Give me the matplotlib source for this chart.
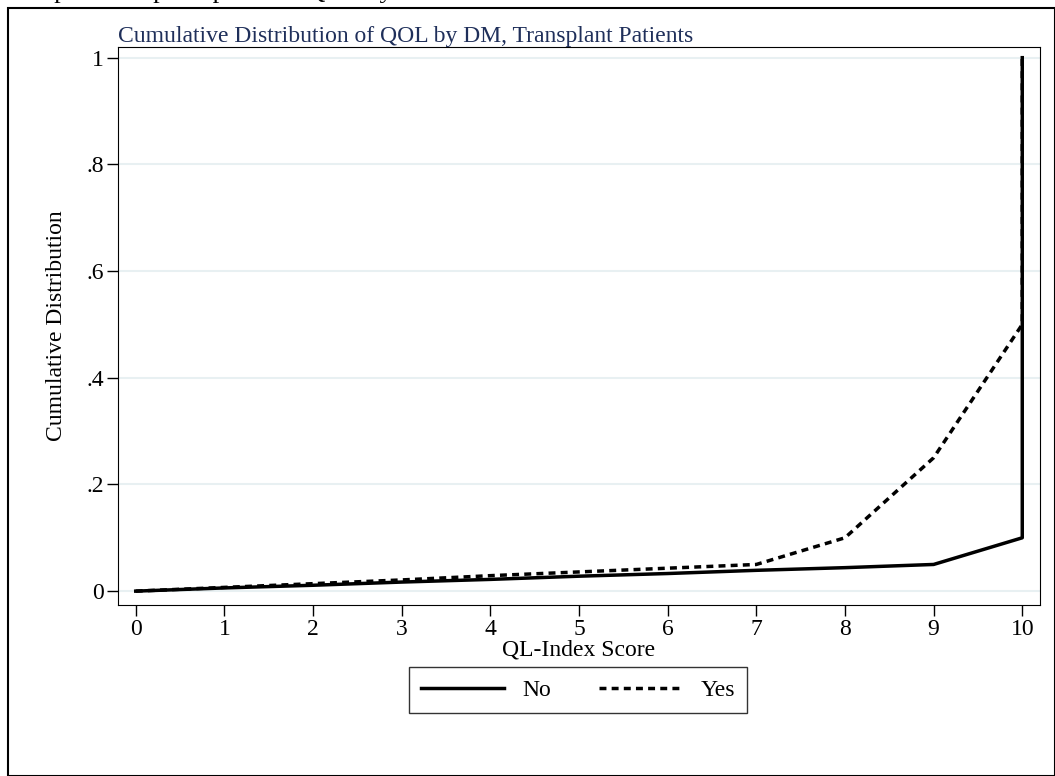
import matplotlib.pyplot as plt
from matplotlib.patches import Rectangle

plt.rcParams['font.family'] = ['Liberation Serif', 'DejaVu Serif']

score_no = [0, 1, 2, 3, 4, 5, 6, 7, 8, 9, 10, 10]
cdf_no = [0, 0.006, 0.011, 0.017, 0.022, 0.028, 0.033, 0.039, 0.044, 0.05, 0.1, 1.0]
score_yes = [0, 1, 2, 3, 4, 5, 6, 7, 8, 9, 10, 10]
cdf_yes = [0, 0.007, 0.014, 0.021, 0.029, 0.036, 0.043, 0.05, 0.1, 0.25, 0.5, 1.0]

W, H = 1055, 776
fig = plt.figure(figsize=(W / 100, H / 100), dpi=100)

# outer frame and caption clipped by the top edge, as in the source
fig.patches.append(Rectangle((8 / W, 0), (W - 8) / W, (H - 8) / H, transform=fig.transFigure,
                             fill=False, edgecolor='black', linewidth=1.5))
fig.text(-0.005, 1 + 8 / H, 'Transplant recipient patients\' QOL by DM',
         fontsize=19, va='center', ha='left')

ax = fig.add_axes([118 / W, 1 - 605 / H, (1040 - 118) / W, (605 - 47) / H])
ax.plot(score_no, cdf_no, color='black', linewidth=2.5, label='No')
ax.plot(score_yes, cdf_yes, color='black', linewidth=2.5, linestyle=(0, (2, 1.5)), label='Yes')

ax.set_xlim(-0.2, 10.2)
ax.set_ylim(-0.026, 1.02)
ax.set_xticks(range(11))
ax.set_yticks([0, 0.2, 0.4, 0.6, 0.8, 1.0])
ax.set_yticklabels(['0', '.2', '.4', '.6', '.8', '1'])
ax.tick_params(labelsize=17, length=8, width=1, pad=2)
ax.grid(axis='y', color='#e8f0f2', linewidth=1.5)
ax.set_axisbelow(True)
ax.set_xlabel('QL-Index Score', fontsize=17, labelpad=0)
ax.set_ylabel('Cumulative Distribution', fontsize=17, labelpad=14)
ax.set_title('Cumulative Distribution of QOL by DM, Transplant Patients', fontsize=17,
             loc='left', color='#1f2f5a', pad=2)

leg = fig.legend(loc='center', bbox_to_anchor=(578 / W, 1 - 690 / H), ncol=2, fontsize=17,
                 frameon=True, fancybox=False, edgecolor='black', handlelength=3.5,
                 columnspacing=2.0, borderpad=0.5)
leg.get_frame().set_linewidth(1)

fig.savefig('out.png', dpi=100)
